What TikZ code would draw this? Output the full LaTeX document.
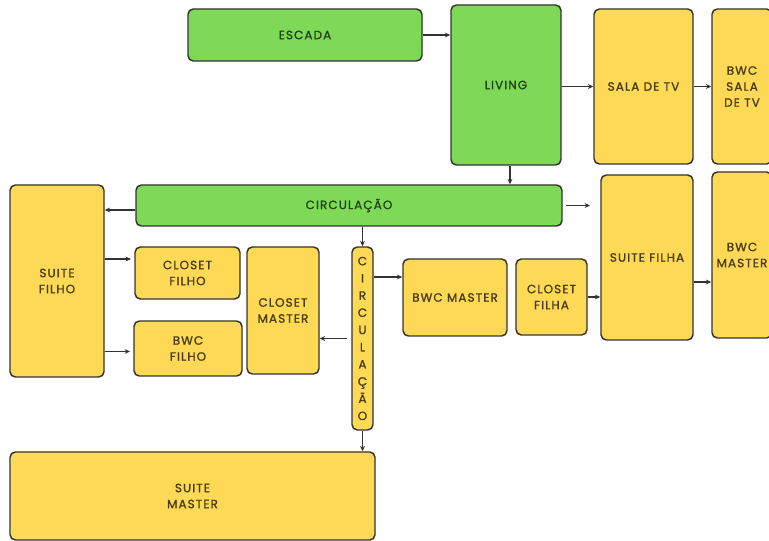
\documentclass[tikz,border=0pt]{standalone}
\usepackage{fontspec}
\setmainfont{Poppins}[LetterSpace=9, FakeBold=1.2]
\usetikzlibrary{arrows.meta}
\definecolor{grn}{HTML}{7ED957}
\definecolor{ylw}{HTML}{FDD956}
\definecolor{edge}{HTML}{333333}
\definecolor{gtxt}{HTML}{23441A}
\definecolor{ytxt}{HTML}{4A3C12}
\tikzset{
  room/.style={draw=edge, line width=1.1pt, rounded corners=4pt, inner sep=0pt, align=center,
    font=\fontsize{9}{12}\selectfont},
  groom/.style={room, fill=grn, text=gtxt},
  yroom/.style={room, fill=ylw, text=ytxt},
  arr/.style={draw=edge, line width=1pt, -{Stealth[length=4pt,width=3.6pt]}}
}
\begin{document}
\begin{tikzpicture}[x=0.75pt,y=-0.75pt]
\useasboundingbox (0,0) rectangle (769,541);
\clip (0,0) rectangle (769,541);
\fill[white] (0,0) rectangle (769,541);
% nodes
\node[groom, minimum width=175.5pt, minimum height=39pt] (escada) at (305,35) {ESCADA};
\node[groom, minimum width=82.5pt, minimum height=120pt] (living) at (506,85) {LIVING};
\node[yroom, minimum width=74.25pt, minimum height=116.25pt] (sala) at (643.5,86.5) {SALA DE TV};
\node[yroom, minimum width=45pt, minimum height=116.25pt] (bwcsala) at (742,86.5) {BWC\\SALA\\DE TV};
\node[groom, minimum width=319.5pt, minimum height=30.75pt] (circ) at (349,205.5) {CIRCULAÇÃO};
\node[yroom, minimum width=70.5pt, minimum height=144pt] (sfilho) at (57,281) {SUITE\\FILHO};
\node[yroom, minimum width=78.75pt, minimum height=39pt] (cfilho) at (187.5,273) {CLOSET\\FILHO};
\node[yroom, minimum width=81pt, minimum height=41.25pt] (bfilho) at (188,348.5) {BWC\\FILHO};
\node[yroom, minimum width=54pt, minimum height=95.25pt] (cmaster) at (283,310.5) {CLOSET\\MASTER};
\node[yroom, minimum width=15.75pt, minimum height=137.25pt,
  font=\fontsize{9}{12.9}\selectfont] (vcirc) at (362.5,338.5) {C\\I\\R\\C\\U\\L\\A\\Ç\\Ã\\O};
\node[yroom, minimum width=78pt, minimum height=57.75pt] (bmaster) at (455,297.5) {BWC MASTER};
\node[yroom, minimum width=53.25pt, minimum height=57pt] (cfilha) at (551.5,297) {CLOSET\\FILHA};
\node[yroom, minimum width=69pt, minimum height=123.75pt] (sfilha) at (647,257.5) {SUITE FILHA};
\node[yroom, minimum width=45pt, minimum height=124.5pt] (bmasterr) at (742,255) {BWC\\MASTER};
\node[yroom, minimum width=273.75pt, minimum height=66pt] (smaster) at (192.5,496) {SUITE\\MASTER};
% helper coordinates
\coordinate (livx) at (510,0);
\coordinate (circy) at (0,210);
\coordinate (circend) at (590,205.5);
\coordinate (cfy) at (0,259);
\coordinate (bfy) at (0,351.5);
\coordinate (bmy) at (0,277);
\coordinate (sfy) at (0,282);
% connectors
\draw[arr] (escada.east) -- (escada.east -| living.west);
\draw[arr] (sala.west -| living.east) -- (sala.west);
\draw[arr] (sala.east) -- (bwcsala.west);
\draw[arr] (living.south -| livx) -- (circ.north -| livx);
\draw[arr] (circ.west |- circy) -- (sfilho.east |- circy);
\draw[arr, shorten <=2.5pt] (circ.east) -- (circend);
\draw[arr] (vcirc.north |- circ.south) -- (vcirc.north);
\draw[arr, shorten <=3.5pt] (vcirc.west) -- (vcirc.west -| cmaster.east);
\draw[arr] (vcirc.east |- bmy) -- (bmaster.west |- bmy);
\draw[arr] (cfilha.east) -- (cfilha.east -| sfilha.west);
\draw[arr] (sfilha.east |- sfy) -- (bmasterr.west |- sfy);
\draw[arr, shorten >=2.5pt] (sfilho.east |- cfy) -- (cfilho.west |- cfy);
\draw[arr, shorten >=2.5pt] (sfilho.east |- bfy) -- (bfilho.west |- bfy);
\draw[arr] (vcirc.south) -- (vcirc.south |- smaster.north);
\end{tikzpicture}
\end{document}
